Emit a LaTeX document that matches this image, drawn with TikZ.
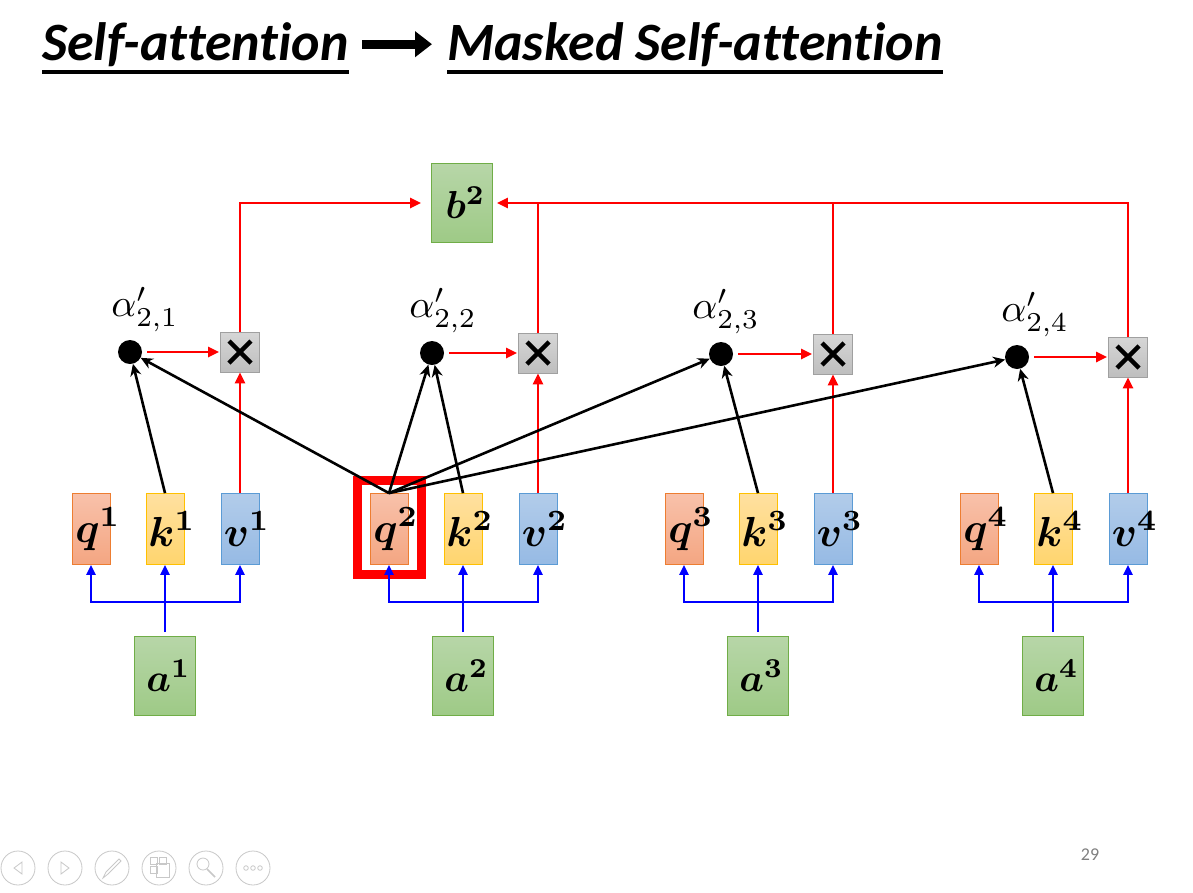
\documentclass[tikz,border=0pt]{standalone}
\usepackage{fontspec}
\usetikzlibrary{arrows.meta,positioning}
\newfontfamily\titlefont[Ligatures=NoCommon]{Carlito}
\definecolor{qtop}{RGB}{248,193,170}
\definecolor{qbot}{RGB}{244,166,130}
\definecolor{qedge}{RGB}{237,125,49}
\definecolor{ktop}{RGB}{255,224,160}
\definecolor{kbot}{RGB}{255,213,110}
\definecolor{kedge}{RGB}{255,192,0}
\definecolor{vtop}{RGB}{178,204,234}
\definecolor{vbot}{RGB}{150,186,228}
\definecolor{vedge}{RGB}{91,155,213}
\definecolor{gtop}{RGB}{183,214,168}
\definecolor{gbot}{RGB}{158,202,134}
\definecolor{gedge}{RGB}{112,173,71}
\definecolor{xtop}{RGB}{214,214,214}
\definecolor{xbot}{RGB}{190,190,190}
\definecolor{xedge}{RGB}{160,160,160}
\definecolor{iconcol}{RGB}{200,200,200}
\newcommand{\vtxt}[3][14pt]{\makebox[0pt]{\kern#1\scalebox{#2}{\boldmath$#3$}}}
\newcommand{\wtxt}[1]{\scalebox{3.9}{$\alpha'_{2,#1}$}}

\begin{document}
\begin{tikzpicture}[x=1pt, y=-1pt,
  titlestyle/.style={inner sep=0pt, font=\titlefont\fontsize{54}{62}\selectfont\bfseries\itshape},
  vecbox/.style={line width=0.8pt, minimum width=38, minimum height=71, inner sep=0pt},
  qbox/.style={vecbox, draw=qedge, top color=qtop, bottom color=qbot},
  kbox/.style={vecbox, draw=kedge, top color=ktop, bottom color=kbot},
  vbox/.style={vecbox, draw=vedge, top color=vtop, bottom color=vbot},
  inbox/.style={draw=gedge, line width=0.8pt, top color=gtop, bottom color=gbot, minimum width=61, minimum height=79, inner sep=0pt},
  mulbox/.style={draw=xedge, line width=0.8pt, top color=xtop, bottom color=xbot, minimum width=39, minimum height=40, inner sep=0pt,
    path picture={
      \draw[black, line width=4.5pt] ([shift={(-11,-11)}]path picture bounding box.center) -- ([shift={(11,11)}]path picture bounding box.center);
      \draw[black, line width=4.5pt] ([shift={(-11,11)}]path picture bounding box.center) -- ([shift={(11,-11)}]path picture bounding box.center);}},
  dotnode/.style={circle, fill=black, minimum size=24, inner sep=0pt},
  alabel/.style={inner sep=0pt},
  hilite/.style={draw=red, line width=9pt, minimum width=64, minimum height=94, inner sep=0pt},
  redline/.style={draw=red, line width=2.8pt, -{Triangle[length=11pt,width=10pt]}},
  blueline/.style={draw=blue, line width=2.8pt, -{Triangle[length=10pt,width=9pt]}},
  blkline/.style={draw=black, line width=2.6pt, -{Stealth[length=12pt,width=11pt]}},
  btn/.style={circle, draw=iconcol, line width=0.8pt, minimum size=34, inner sep=0pt},
  iconline/.style={draw=iconcol, line width=0.8pt}]

\fill[white] (0,0) rectangle (1193,892);
\useasboundingbox (0,0) rectangle (1193,892);

% Title
\node[titlestyle, anchor=base west] (ttl1) at (42,60) {Self-attention};
\node[titlestyle, anchor=base west] (ttl2) at (447,60) {Masked Self-attention};
\draw[line width=3.5pt] ([yshift=-12]ttl1.base west) -- ([yshift=-12]ttl1.base east);
\draw[line width=3.5pt] ([yshift=-12]ttl2.base west) -- ([yshift=-12]ttl2.base east);
\draw[line width=9pt, -{Triangle[length=17pt,width=25pt]}, shorten <=13, shorten >=15] (ttl1.east) -- (ttl2.west);

% q, k, v and inputs
\foreach \i/\qx/\ry/\dx in {1/91/352/39, 2/389/353/43, 3/684/354/37, 4/979/357/38} {
  \node[qbox] (q\i) at (\qx,529) {\vtxt{4.2}{q^{\i}}};
  \node[kbox] (k\i) at (\qx+74,529) {\vtxt{4.2}{k^{\i}}};
  \node[vbox] (v\i) at (\qx+149,529) {\vtxt{4.2}{v^{\i}}};
  \node[inbox] (a\i) at (\qx+74,676) {\vtxt[7pt]{3.9}{a^{\i}}};
  \coordinate (bus\i) at (\qx+74,602);
  \node[mulbox] (m\i) at (\qx+149,\ry) {};
  \node[dotnode] (d\i) at (\qx+\dx,\ry) {};
}

% weights
\node[alabel, above=8pt of d1, xshift=15] (w1) {\wtxt{1}};
\node[alabel, above=8pt of d2, xshift=11] (w2) {\wtxt{2}};
\node[alabel, above=8pt of d3, xshift=5] (w3) {\wtxt{3}};
\node[alabel, above=8pt of d4, xshift=18] (w4) {\wtxt{4}};

% output
\node[inbox] (b2) at (462,203) {\vtxt[7pt]{3.9}{b^{2}}};

% highlight on q2
\node[hilite] (sel) at (389,527) {};

\foreach \i in {1,...,4} {
  \draw[blueline, -, shorten <=4] (a\i.north) -- (bus\i);
  \draw[blueline] (bus\i) -| (q\i.south);
  \draw[blueline] (bus\i) -- (k\i.south);
  \draw[blueline] (bus\i) -| (v\i.south);
  \draw[redline] (v\i.north) -- (m\i.south);
  \draw[redline, shorten <=5, shorten >=1] (d\i.east) -- (m\i.west);
  \draw[blkline] (k\i.north) -- (d\i);
  \draw[blkline] (q2.north) -- (d\i);
}

% weighted sum
\draw[redline, shorten >=10] (m1.north) |- (b2.west);
\draw[redline, shorten >=4] (m4.north) |- (b2.east);
\draw[redline, -] (m2.north) -- (m2.north |- b2.east);
\draw[redline, -] (m3.north) -- (m3.north |- b2.east);

% slide controls and page number
\foreach \n/\cx in {1/18, 2/65, 3/112, 4/159, 5/206, 6/253}
  \node[btn] (btn\n) at (\cx,868) {};
\draw[iconline] ([shift={(4,-6)}]btn1.center) -- ([shift={(-4,0)}]btn1.center) -- ([shift={(4,6)}]btn1.center) -- cycle;
\draw[iconline] ([shift={(-4,-6)}]btn2.center) -- ([shift={(4,0)}]btn2.center) -- ([shift={(-4,6)}]btn2.center) -- cycle;
\draw[iconline] ([shift={(-9,10)}]btn3.center) -- ([shift={(-6,4)}]btn3.center) -- ([shift={(7,-9)}]btn3.center) -- ([shift={(9,-7)}]btn3.center) -- ([shift={(-4,6)}]btn3.center) -- cycle;
\draw[iconline] ([shift={(-9,-11)}]btn4.center) rectangle ([shift={(-2,-4)}]btn4.center);
\draw[iconline] ([shift={(0,-11)}]btn4.center) rectangle ([shift={(7,-4)}]btn4.center);
\draw[iconline] ([shift={(-9,-2)}]btn4.center) rectangle ([shift={(-2,5)}]btn4.center);
\draw[iconline] ([shift={(-3,-5)}]btn4.center) rectangle ([shift={(10,9)}]btn4.center);
\draw[iconline] ([shift={(-3,-4)}]btn5.center) circle (6);
\draw[iconline, line width=1.6pt] ([shift={(1,1)}]btn5.center) -- ([shift={(9,9)}]btn5.center);
\foreach \ox in {-7,0,7}
  \draw[iconline] ([shift={(\ox,0)}]btn6.center) circle (2.3);
\node[font=\titlefont\fontsize{18}{20}\selectfont, text=gray] (pg) at (1090,855) {29};
\end{tikzpicture}
\end{document}
